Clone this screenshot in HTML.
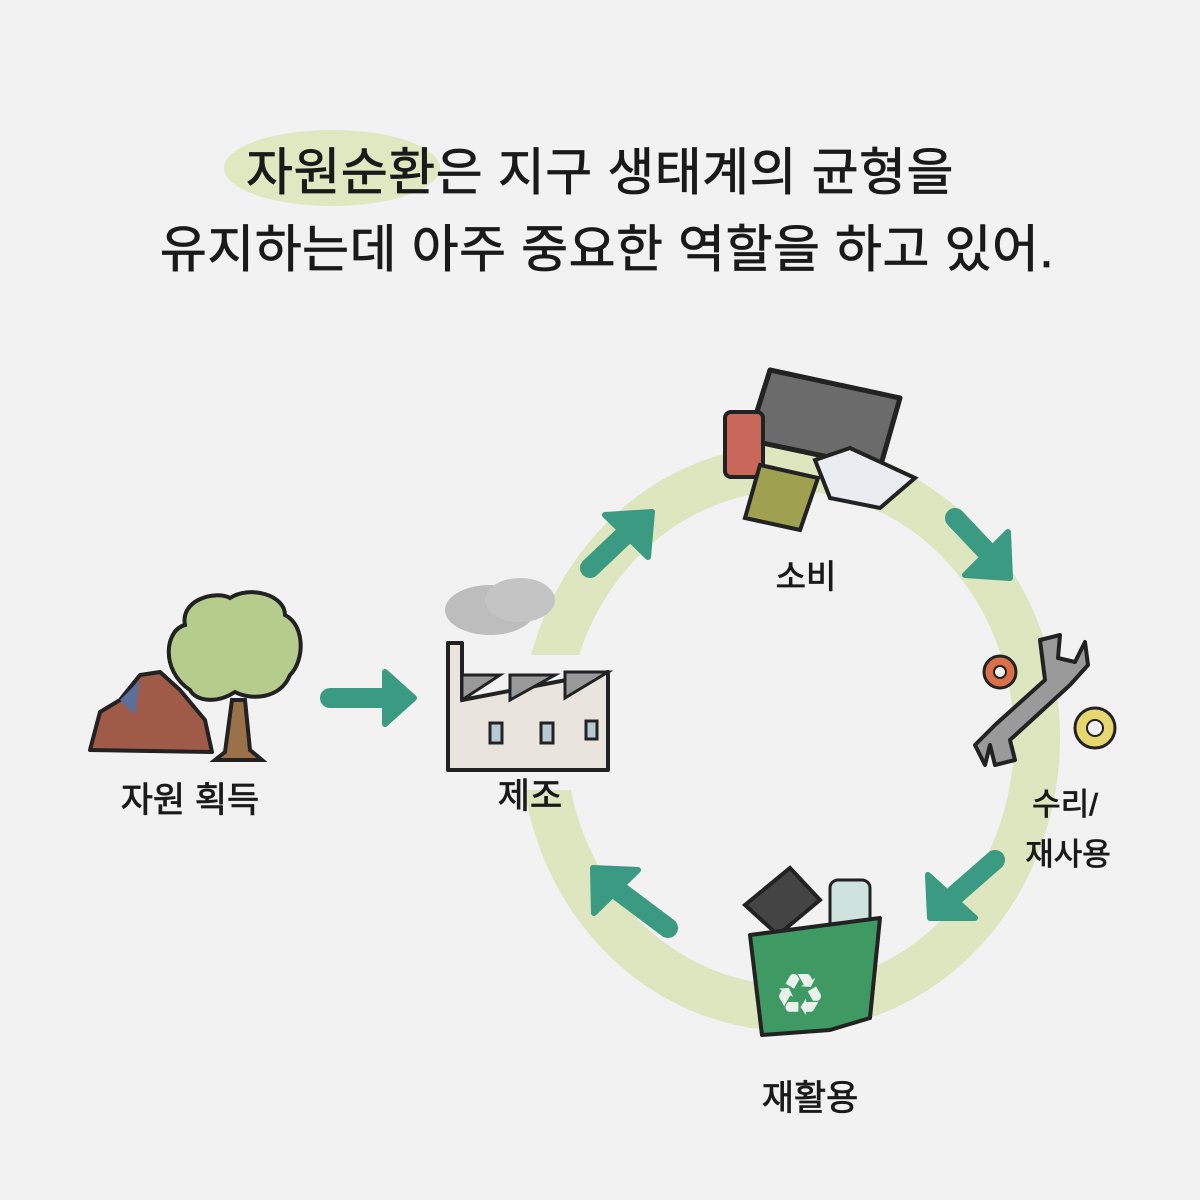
<!DOCTYPE html>
<html><head><meta charset="utf-8"><style>
html,body{margin:0;padding:0;background:#f2f2f2;}
svg{display:block}
text{font-family:"Liberation Sans","Noto Sans CJK KR","NanumGothic",sans-serif;fill:#1a1a1a;stroke:#1a1a1a;stroke-width:0.8}
</style></head><body>
<svg width="1200" height="1200" viewBox="0 0 1200 1200">
<rect width="1200" height="1200" fill="#f2f2f2"/>
<ellipse cx="332" cy="168" rx="108" ry="38" fill="#dfe8c0" stroke="none"/>
<text x="600" y="190" font-size="51" text-anchor="middle" letter-spacing="0.5">자원순환은 지구 생태계의 균형을</text>
<text x="607" y="267" font-size="51" text-anchor="middle" letter-spacing="0.5">유지하는데 아주 중요한 역할을 하고 있어.</text>

<!-- ring -->
<ellipse cx="790" cy="738" rx="247" ry="270" fill="none" stroke="#dde6bf" stroke-width="46"/>
<rect x="505" y="655" width="90" height="135" fill="#f2f2f2"/>

<!-- arrows -->
<g stroke="#3a9a82" stroke-width="20" stroke-linecap="round" fill="#3a9a82">
<line x1="330" y1="698" x2="392" y2="698"/><polygon points="385,672 414,698 385,724" stroke-width="6" stroke-linejoin="round"/>
<line x1="590" y1="568" x2="630" y2="530"/><polygon points="605,515 652,512 648,557" stroke-width="6" stroke-linejoin="round"/>
<line x1="955" y1="518" x2="990" y2="555"/><polygon points="1008,532 1010,578 965,575" stroke-width="6" stroke-linejoin="round"/>
<line x1="995" y1="860" x2="955" y2="895"/><polygon points="928,875 930,918 975,918" stroke-width="6" stroke-linejoin="round"/>
<line x1="668" y1="928" x2="620" y2="892"/><polygon points="594,913 593,868 638,870" stroke-width="6" stroke-linejoin="round"/>
</g>

<!-- mountain + tree -->
<polygon points="90,750 100,712 120,700 140,675 160,672 180,690 205,720 212,752" fill="#a05a48" stroke="#222" stroke-width="4" stroke-linejoin="round"/>
<polygon points="120,700 140,680 135,715" fill="#5b6f9a"/>
<path d="M232 700 L225 752 L215 760 L262 760 L250 750 L245 700 Z" fill="#9a7148" stroke="#222" stroke-width="4"/>
<path d="M190 690 C160 670 165 630 185 625 C180 600 215 590 230 598 C250 585 285 595 285 615 C305 625 305 660 290 675 C280 700 250 700 235 692 C215 705 195 700 190 690 Z" fill="#b5cc8c" stroke="#222" stroke-width="4"/>
<text x="190" y="812" font-size="35" text-anchor="middle">자원 획득</text>

<!-- factory -->
<ellipse cx="490" cy="610" rx="45" ry="25" fill="#bdbdbd"/><ellipse cx="520" cy="600" rx="35" ry="22" fill="#c4c4c4"/>
<path d="M448 770 L448 643 L462 643 L462 700 L608 672 L608 770 Z" fill="#e9e5de" stroke="#222" stroke-width="4" stroke-linejoin="round"/>
<polygon points="462,675 500,675 462,700" fill="#999" stroke="#222" stroke-width="3"/>
<polygon points="510,675 555,675 510,700" fill="#999" stroke="#222" stroke-width="3"/>
<polygon points="565,672 608,672 565,698" fill="#999" stroke="#222" stroke-width="3"/>
<g fill="#b9c9d4" stroke="#222" stroke-width="3"><rect x="490" y="723" width="12" height="20"/><rect x="541" y="723" width="12" height="20"/><rect x="586" y="721" width="11" height="18"/></g>
<text x="530" y="808" font-size="35" text-anchor="middle">제조</text>

<!-- consumption -->
<polygon points="770,370 900,398 880,468 748,440" fill="#6b6b6b" stroke="#222" stroke-width="5" stroke-linejoin="round"/>
<rect x="725" y="412" width="38" height="65" rx="6" fill="#c8675a" stroke="#222" stroke-width="4"/>
<polygon points="760,465 818,478 800,530 745,518" fill="#9fa050" stroke="#222" stroke-width="4"/>
<polygon points="815,460 850,448 915,478 880,508 830,498" fill="#e9edf2" stroke="#222" stroke-width="4"/>
<text x="806" y="588" font-size="33" text-anchor="middle">소비</text>

<!-- repair -->
<g stroke="#222" stroke-width="4" fill="#9a9a9a" stroke-linejoin="round">
<path d="M1040 640 L1060 635 L1058 658 L1075 662 L1085 642 L1088 665 L1070 685 L1010 740 L1015 760 L995 765 L990 745 L985 765 L975 745 L995 725 L1045 680 Z"/>
</g>
<circle cx="1000" cy="672" r="16" fill="#d9704a" stroke="#222" stroke-width="3"/><circle cx="1000" cy="672" r="6" fill="#f2f2f2" stroke="#222" stroke-width="2"/>
<circle cx="1095" cy="728" r="20" fill="#e6d770" stroke="#222" stroke-width="3"/><circle cx="1095" cy="728" r="8" fill="#f2f2f2" stroke="#222" stroke-width="2"/>
<text x="1065" y="815" font-size="31" text-anchor="middle">수리/</text>
<text x="1068" y="865" font-size="31" text-anchor="middle">재사용</text>

<!-- recycling -->
<polygon points="745,905 790,868 820,900 778,935" fill="#444" stroke="#222" stroke-width="4"/>
<rect x="830" y="880" width="40" height="50" rx="8" fill="#cfe3de" stroke="#222" stroke-width="3"/>
<polygon points="750,935 880,918 870,1018 830,1030 762,1035" fill="#3e9a62" stroke="#222" stroke-width="4" stroke-linejoin="round"/>
<text x="800" y="1010" font-size="44" text-anchor="middle" style="fill:#e8f2ea;stroke:none">♻</text>
<text x="810" y="1110" font-size="35" text-anchor="middle">재활용</text>
</svg>
</body></html>
